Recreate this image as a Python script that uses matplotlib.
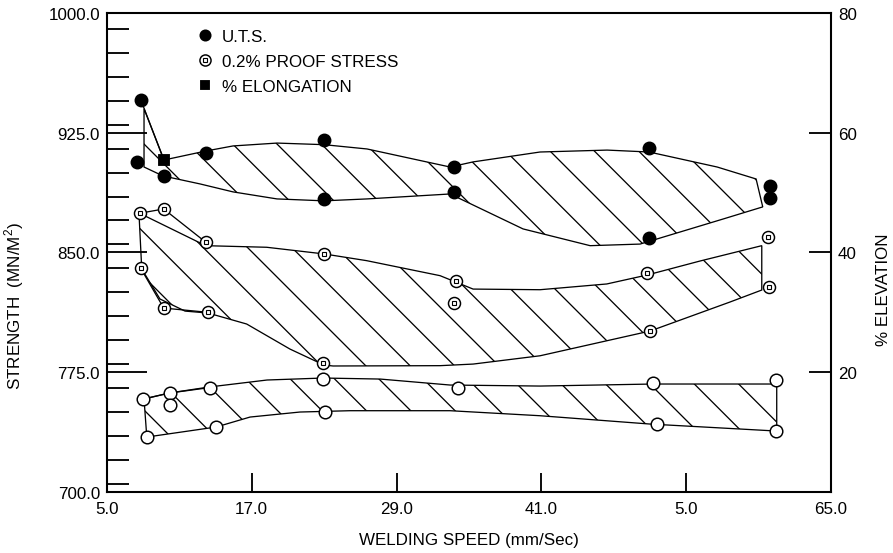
import matplotlib.pyplot as plt
from matplotlib.lines import Line2D
from matplotlib.ticker import MultipleLocator

plt.rcParams['font.family'] = 'Liberation Sans'
plt.rcParams['mathtext.fontset'] = 'custom'
plt.rcParams['mathtext.rm'] = 'Liberation Sans'
plt.rcParams['hatch.linewidth'] = 0.7

# axis ticks and the labels printed under them
speed_ticks = [5, 17, 29, 41, 53, 65]
speed_labels = ['5.0', '17.0', '29.0', '41.0', '5.0', '65.0']
strength_ticks = [700, 775, 850, 925, 1000]
elong_ticks = [20, 40, 60, 80]

# U.T.S. readings (MN/m^2)
uts_x = [7.5, 7.8, 9.7, 13.2, 23.0, 23.0, 33.8, 33.8, 49.9, 49.9, 60.0, 60.0]
uts_y = [906.4, 945.7, 897.7, 912.1, 920.4, 883.4, 903.3, 887.6, 915.2, 859.0, 891.8, 883.9]

# 0.2% proof stress readings (MN/m^2)
proof_x = [7.7, 9.7, 13.2, 23.0, 7.8, 9.7, 13.4, 22.9, 33.9, 33.8, 49.8, 50.0, 59.9, 59.8]
proof_y = [874.5, 877.2, 856.3, 849.0, 840.0, 815.1, 812.4, 780.5, 831.9, 818.1, 836.9, 800.9, 828.5, 859.4]

# % elongation readings (right axis)
elong_x = [8.0, 8.3, 10.2, 10.2, 13.5, 14.0, 22.9, 23.1, 34.1, 50.3, 50.6, 60.5, 60.5]
elong_y = [15.5, 9.1, 16.5, 14.5, 17.4, 10.9, 18.8, 13.4, 17.4, 18.1, 11.3, 18.7, 10.2]
elong_sq_x = [9.7]
elong_sq_y = [55.5]

# scatter band envelopes, left to right
uts_upper_x = [8.07, 9.73, 13.18, 15.45, 19.09, 22.99, 26.56, 33.44, 35.35, 40.9, 46.46, 49.94, 55.58, 58.81, 59.36]
uts_upper_y = [940.0, 907.9, 913.5, 916.7, 918.5, 917.5, 914.8, 903.5, 906.7, 912.9, 914.1, 912.9, 903.5, 896.0, 878.5]
uts_lower_x = [8.07, 9.64, 12.71, 15.45, 19.09, 22.99, 26.56, 33.44, 39.49, 45.05, 49.19, 56.07, 59.36]
uts_lower_y = [903.5, 897.9, 892.9, 887.9, 883.5, 882.3, 883.5, 886.6, 864.7, 854.2, 855.2, 870.9, 878.5]

proof_upper_x = [7.65, 13.18, 18.24, 23.02, 26.53, 32.61, 35.35, 40.9, 46.43, 49.77, 54.17, 59.28]
proof_upper_y = [874.7, 854.2, 853.2, 849.0, 844.8, 835.4, 827.0, 826.6, 830.2, 835.8, 844.6, 854.2]
proof_lower_x = [7.88, 9.39, 11.47, 13.37, 16.58, 20.17, 22.99, 23.74, 32.61, 35.35, 40.9, 46.43, 50.02, 56.65, 59.28]
proof_lower_y = [839.6, 820.8, 813.2, 812.0, 805.1, 789.4, 779.4, 778.8, 779.0, 780.0, 785.2, 794.6, 800.7, 818.9, 826.4]

elong_upper_x = [8.07, 10.14, 13.46, 18.27, 22.91, 27.64, 33.44, 40.9, 50.27, 60.52]
elong_upper_y = [15.49, 16.49, 17.5, 18.67, 19.0, 18.83, 17.83, 17.66, 18.0, 18.0]
elong_lower_x = [8.3, 14.04, 16.86, 21.0, 25.15, 33.44, 40.9, 50.02, 57.48, 60.52]
elong_lower_y = [9.14, 10.81, 12.48, 13.32, 13.54, 13.54, 12.7, 11.31, 10.48, 10.14]

fig = plt.figure(figsize=(6.7, 4.156), dpi=133.3)
ax = fig.add_axes([0.1198, 0.1106, 0.8104, 0.8641])
ax2 = ax.twinx()

lw = 0.7
band = dict(facecolor='none', edgecolor='black', hatch='\\', linewidth=lw)

ax.fill(uts_upper_x + uts_lower_x[::-1], uts_upper_y + uts_lower_y[::-1], **band)
ax.fill(proof_upper_x + proof_lower_x[::-1], proof_upper_y + proof_lower_y[::-1], **band)
ax2.fill(elong_upper_x + elong_lower_x[::-1], elong_upper_y + elong_lower_y[::-1], **band)

# short joins between the low-speed readings
ax.plot([uts_x[1], elong_sq_x[0]], [uts_y[1], 700 + elong_sq_y[0] * 300 / 80], color='black', lw=lw)
ax.plot(proof_x[0:3], proof_y[0:3], color='black', lw=lw)
ax.plot(proof_x[4:7], proof_y[4:7], color='black', lw=lw)
ax2.plot([elong_x[0], elong_x[2], elong_x[4]], [elong_y[0], elong_y[2], elong_y[4]], color='black', lw=lw)

ax.plot(uts_x, uts_y, 'o', color='black', ms=6.5, zorder=5)
ax.plot(proof_x, proof_y, 'o', mfc='white', mec='black', mew=0.8, ms=6.5, zorder=5)
ax.plot(proof_x, proof_y, 's', mfc='none', mec='black', mew=0.6, ms=2.6, zorder=6)
ax2.plot(elong_x, elong_y, 'o', mfc='white', mec='black', mew=0.8, ms=6.8, zorder=5)
ax2.plot(elong_sq_x, elong_sq_y, 's', color='black', ms=5.5, zorder=5)

ax.set_xlim(5, 65)
ax.set_ylim(700, 1000)
ax2.set_ylim(0, 80)

fs = 9.2
ax.set_xticks(speed_ticks, speed_labels)
ax.tick_params(axis='x', direction='in', length=10.3, width=1.0, pad=5.0, labelsize=fs)
ax.set_yticks(strength_ticks, [f'{v:.1f}' for v in strength_ticks])
ax.yaxis.set_minor_locator(MultipleLocator(15))
ax.tick_params(axis='y', which='major', direction='in', length=21.6, width=1.0, pad=3.8, labelsize=fs)
ax.tick_params(axis='y', which='minor', direction='in', length=11.9, width=1.0)
ax2.set_yticks(elong_ticks, [str(v) for v in elong_ticks])
ax2.tick_params(axis='y', direction='in', length=11.9, width=1.0, pad=3.8, labelsize=fs)

for a in (ax, ax2):
    for s in a.spines.values():
        s.set_linewidth(1.1)

ax.set_xlabel('WELDING SPEED (mm/Sec)', fontsize=fs)
ax.xaxis.set_label_coords(0.5, -0.085)
ax.set_ylabel('STRENGTH  (MN/M$^{2}$)', fontsize=fs)
ax.yaxis.set_label_coords(-0.112, 0.39)
ax2.set_ylabel('% ELEVATION', fontsize=fs)
ax2.yaxis.set_label_coords(1.0626, 0.423)

handles = [
    Line2D([], [], ls='none', marker='o', color='black', ms=5.5),
    (Line2D([], [], ls='none', marker='o', mfc='white', mec='black', mew=0.8, ms=6),
     Line2D([], [], ls='none', marker='s', mfc='none', mec='black', mew=0.6, ms=2.4)),
    Line2D([], [], ls='none', marker='s', color='black', ms=4.5),
]
ax2.legend(handles, ['U.T.S.', '0.2% PROOF STRESS', '% ELONGATION'],
           loc='upper left', bbox_to_anchor=(0.1235, 0.9666), frameon=False,
           fontsize=fs, borderpad=0, borderaxespad=0, handlelength=1.0,
           handletextpad=0.5, labelspacing=0.6)

fig.savefig('out.png', dpi=133.3)
